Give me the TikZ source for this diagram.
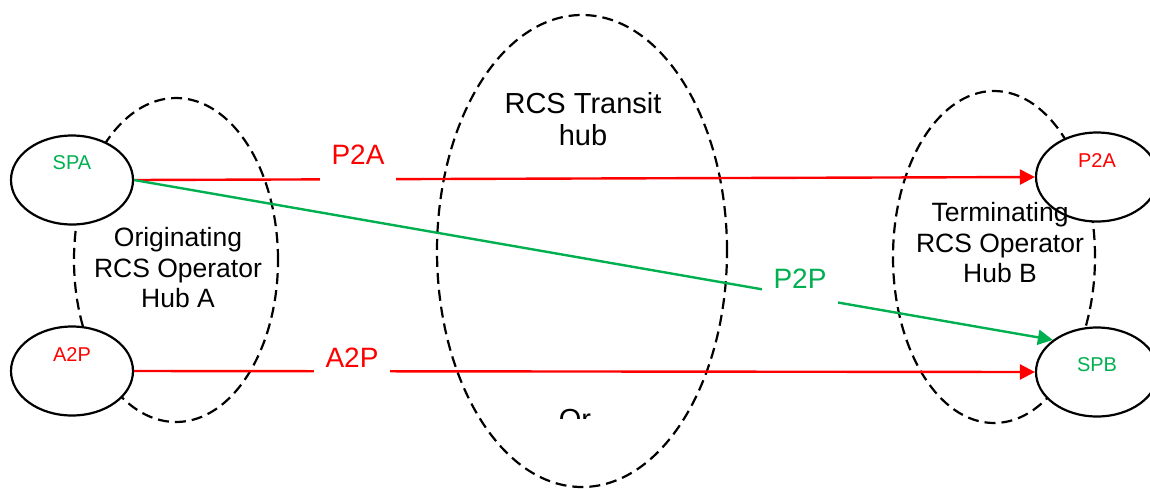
\documentclass[tikz,border=0pt]{standalone}
\usepackage{fontspec}
\setmainfont{Liberation Sans}
\usetikzlibrary{shapes.geometric,arrows.meta}
\definecolor{pred}{RGB}{255,0,0}
\definecolor{pgreen}{RGB}{0,176,80}
\begin{document}
\begin{tikzpicture}[x=1pt,y=-1pt,
  hub/.style={draw, dash pattern=on 11pt off 6pt, line width=2.2pt, ellipse, inner sep=0pt},
  party/.style={draw, fill=white, line width=2.2pt, ellipse, inner sep=0pt, minimum width=122pt, minimum height=89pt},
  ptext/.style={font=\fontsize{20}{24}\selectfont},
  hubtext/.style={align=center, font=\fontsize{26.5}{30.5}\selectfont},
  flow/.style={line width=2.4pt, -{Triangle[length=15pt,width=15pt]}},
  flowlabel/.style={fill=white, anchor=base, inner xsep=11.5pt, inner ysep=0pt, text height=22pt, text depth=20pt, font=\fontsize{28}{32}\selectfont}
]
\useasboundingbox (0,0) rectangle (1150,488);
\clip (0,0) rectangle (1150,488);
% hubs
\node[hub, minimum width=204pt, minimum height=324pt] (hubA) at (176,260) {};
\node[hub, minimum width=290pt, minimum height=472pt] (transit) at (582,251) {};
\node[hub, minimum width=202pt, minimum height=332pt] (hubB) at (994,257) {};
% parties
\node[party] (spa) at (72,180) {};
\node[party] (a2p) at (72,371) {};
\node[party] (p2a) at (1097,177) {};
\node[party] (spb) at (1097,372) {};
\node[ptext, text=pgreen] (spaT) at (72,163) {SPA};
\node[ptext, text=pred] (a2pT) at (72,355) {A2P};
\node[ptext, text=pred] (p2aT) at (1097,161) {P2A};
\node[ptext, text=pgreen] (spbT) at (1097,365) {SPB};
% hub texts
\node[hubtext] (hubAT) at (178,268) {Originating\\RCS Operator\\Hub A};
\node[hubtext] (hubBT) at (1000,243) {Terminating\\RCS Operator\\Hub B};
\node[align=center, font=\fontsize{29}{32}\selectfont] (transitT) at (583,119) {RCS Transit\\hub};
\begin{scope}
  \clip (540,395) rectangle (620,418);
  \node[font=\fontsize{29}{32}\selectfont, anchor=base] (orT) at (575,429) {Or};
\end{scope}
% flows
\draw[flow, pred] (spa.east) -- (p2a.west);
\draw[flow, pred] (a2p.east) -- (spb.west);
\draw[flow, pgreen] (spa.east) -- (spb.144);
\node[flowlabel, text=pred] (p2aL) at (358,164) {P2A};
\node[flowlabel, text=pred] (a2pL) at (352,367) {A2P};
\node[flowlabel, text=pgreen] (p2pL) at (800,288) {P2P};
\end{tikzpicture}
\end{document}
